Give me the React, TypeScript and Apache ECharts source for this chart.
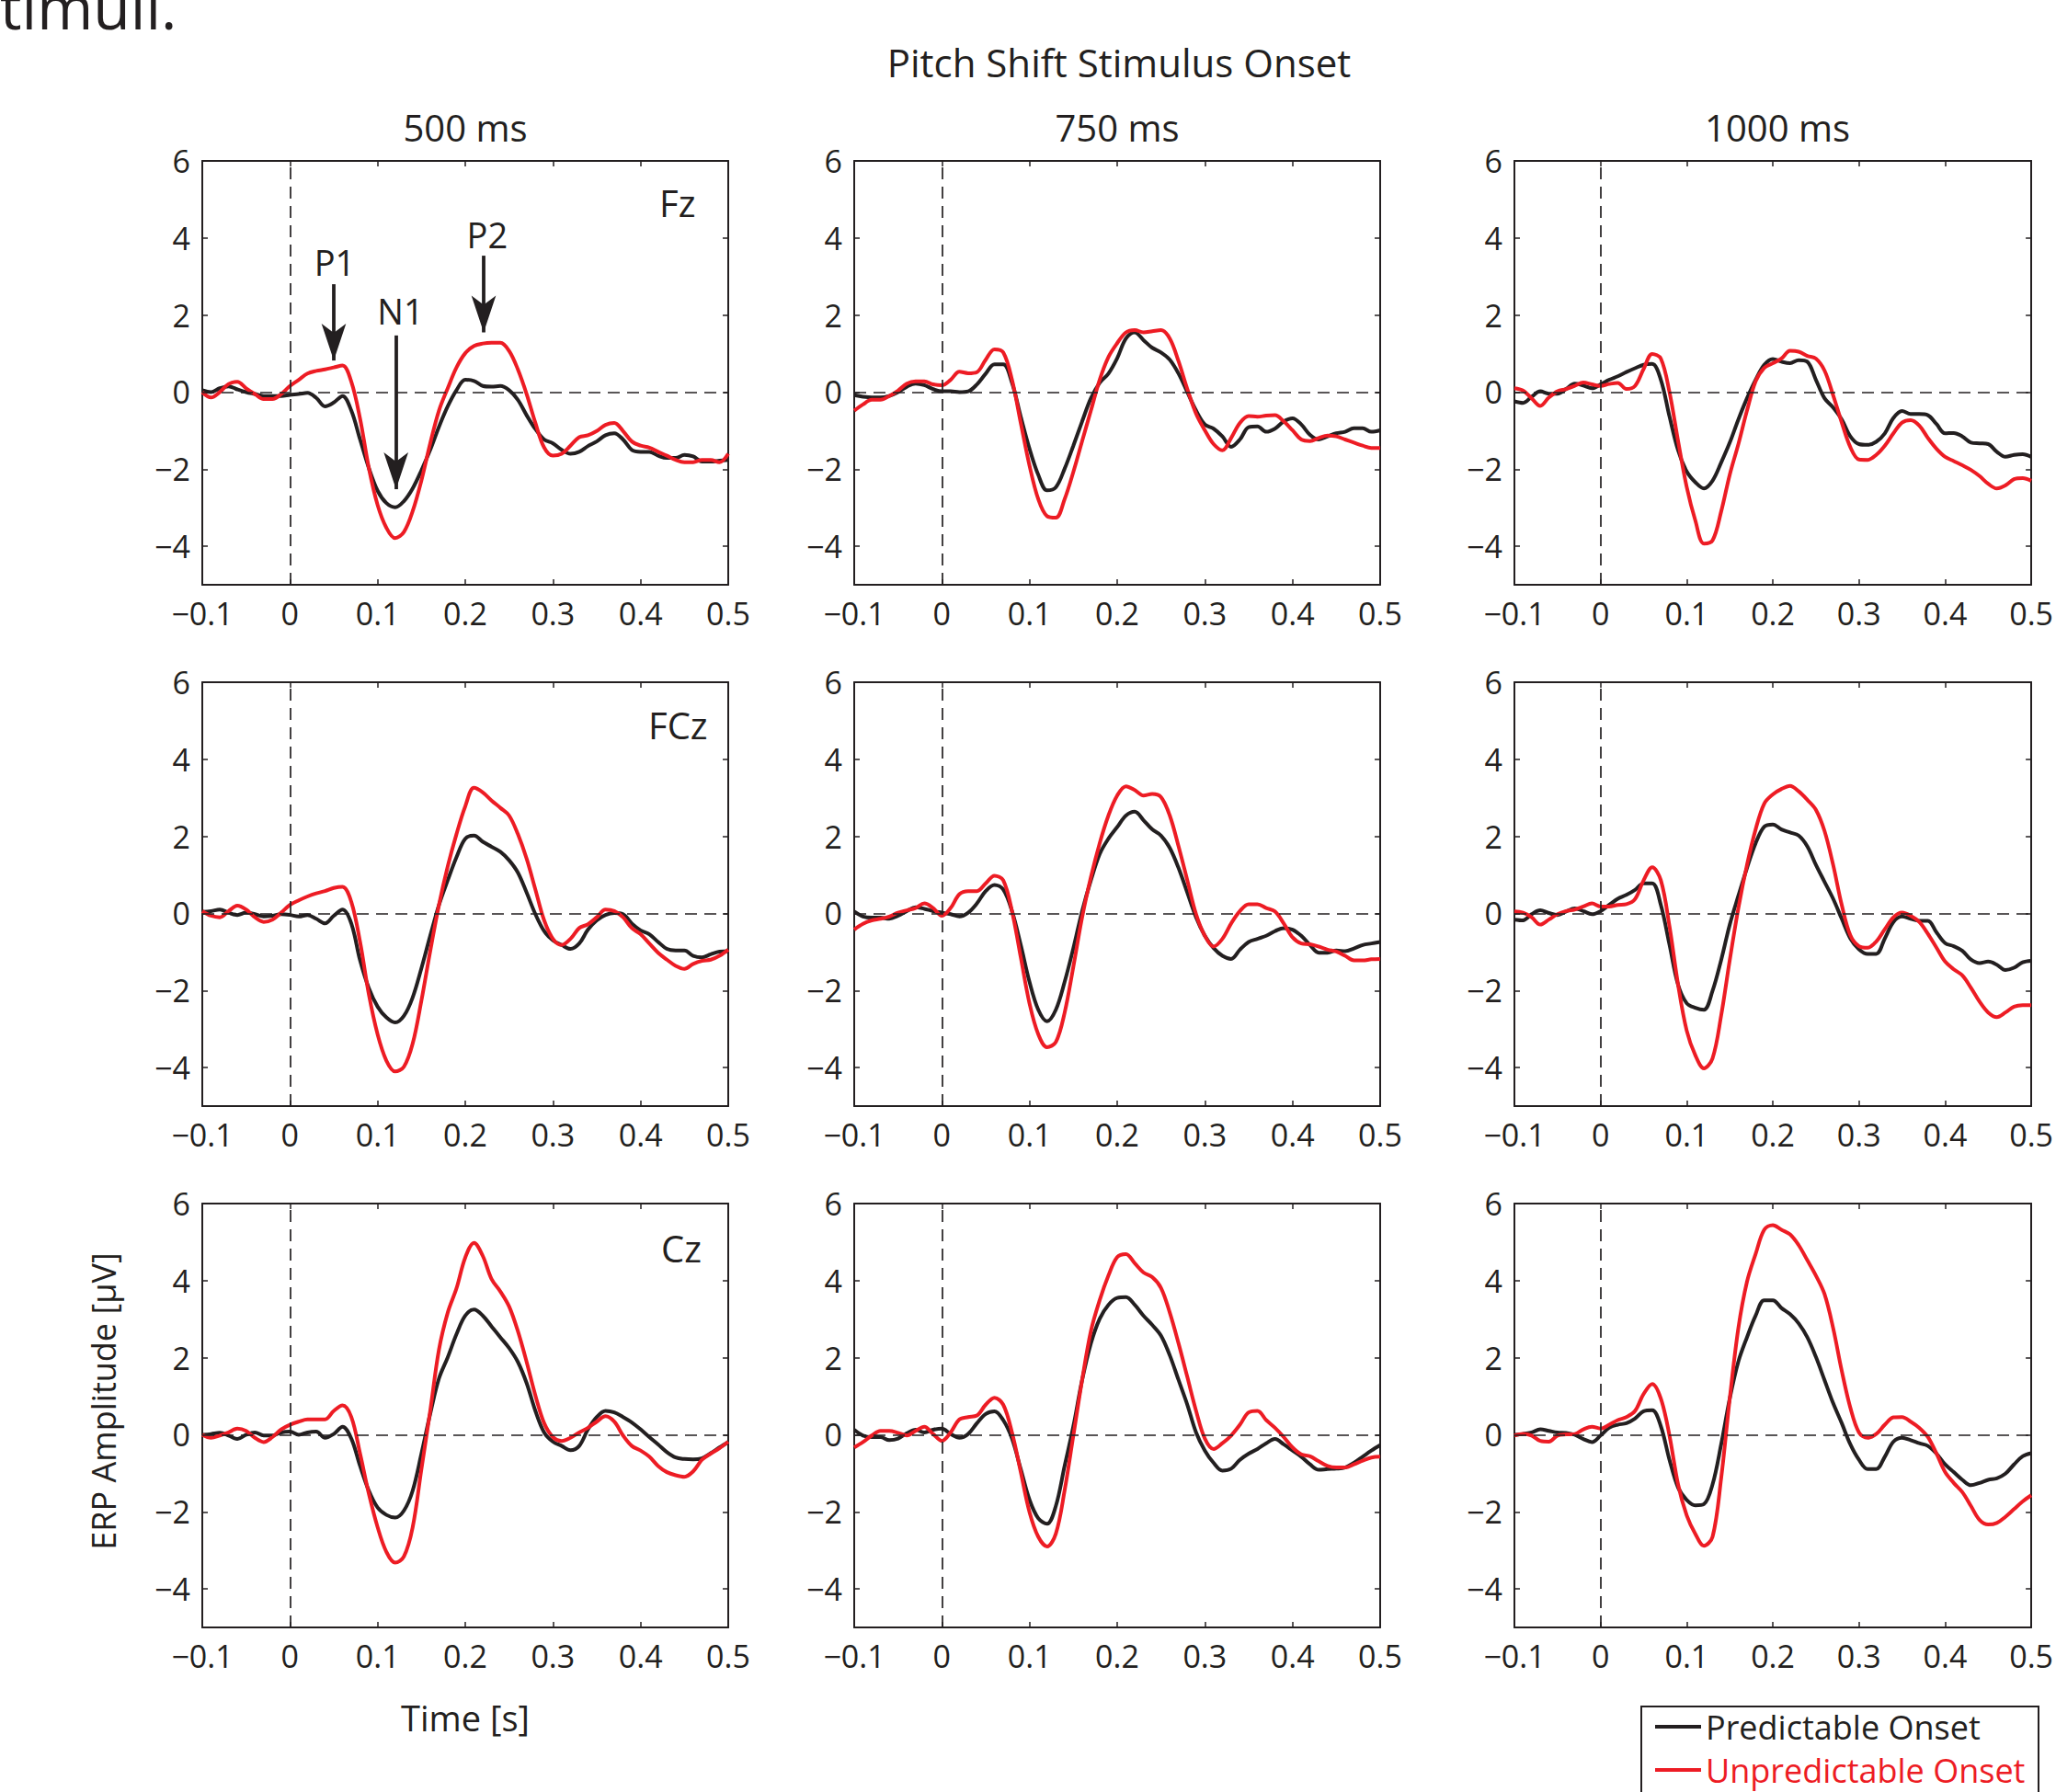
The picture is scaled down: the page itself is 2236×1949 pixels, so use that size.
import React, { useEffect, useRef } from 'react';
import * as echarts from 'echarts';

// ---------- data ----------
const TIMES = [
  -0.1, -0.09, -0.08, -0.07, -0.06, -0.05, -0.04, -0.03, -0.02, -0.01,
  0, 0.01, 0.02, 0.03, 0.04, 0.05, 0.06, 0.07, 0.08, 0.09,
  0.1, 0.11, 0.12, 0.13, 0.14, 0.15, 0.16, 0.17, 0.18, 0.19,
  0.2, 0.21, 0.22, 0.23, 0.24, 0.25, 0.26, 0.27, 0.28, 0.29,
  0.3, 0.31, 0.32, 0.33, 0.34, 0.35, 0.36, 0.37, 0.38, 0.39,
  0.4, 0.41, 0.42, 0.43, 0.44, 0.45, 0.46, 0.47, 0.48, 0.49, 0.5,
];
const X_TICKS = [-0.1, 0, 0.1, 0.2, 0.3, 0.4, 0.5];
const Y_TICKS = [-4, -2, 0, 2, 4, 6];
const COLUMN_TITLES = ['500 ms', '750 ms', '1000 ms'];
const ROW_LABELS = ['Fz', 'FCz', 'Cz'];
const SERIES_NAMES = ['Predictable Onset', 'Unpredictable Onset'];
const MAIN_TITLE = 'Pitch Shift Stimulus Onset';
const X_NAME = 'Time [s]';
const Y_NAME = 'ERP Amplitude [µV]';
const PEAK_LABELS = ['P1', 'N1', 'P2'];
const PEAK_LABEL_POS = [[0.051, 3.38], [0.126, 2.12], [0.225, 4.1]];
const PEAK_ARROWS = [[0.05, 2.8, 0.82], [0.121, 1.47, -2.52], [0.221, 3.54, 1.55]];

const FZ_500_PRED = [
  0.05, 0.0, 0.1, 0.15, 0.07, 0, -0.05, -0.1, -0.1, -0.1,
  -0.07, -0.05, -0.02, -0.15, -0.37, -0.27, -0.1, -0.48, -1.23, -1.97,
  -2.56, -2.88, -2.99, -2.83, -2.5, -2.03, -1.5, -0.9, -0.37, 0.05,
  0.32, 0.29, 0.16, 0.14, 0.16, 0.05, -0.2, -0.6, -0.96, -1.23,
  -1.33, -1.5, -1.6, -1.55, -1.4, -1.28, -1.12, -1.07, -1.23, -1.5,
  -1.55, -1.55, -1.65, -1.71, -1.71, -1.63, -1.67, -1.8, -1.8, -1.78, -1.76,
];
const FZ_500_UNPRED = [
  0, -0.14, 0, 0.21, 0.27, 0.1, -0.05, -0.18, -0.18, -0.05,
  0.16, 0.32, 0.48, 0.55, 0.59, 0.64, 0.69, 0.27, -0.69, -1.97,
  -2.93, -3.52, -3.79, -3.63, -3.09, -2.29, -1.33, -0.48, 0.1, 0.64,
  1.01, 1.2, 1.26, 1.28, 1.28, 1.07, 0.59, -0.05, -0.8, -1.44,
  -1.65, -1.6, -1.39, -1.17, -1.12, -1.01, -0.85, -0.8, -1.01, -1.28,
  -1.39, -1.44, -1.55, -1.65, -1.76, -1.82, -1.82, -1.76, -1.76, -1.82, -1.6,
];
const FZ_750_PRED = [
  -0.08, -0.12, -0.14, -0.14, -0.1, 0, 0.14, 0.22, 0.18, 0.08,
  0.02, 0.02, 0, 0.02, 0.2, 0.48, 0.72, 0.72, 0.24, -0.64,
  -1.47, -2.15, -2.55, -2.47, -1.99, -1.39, -0.76, -0.16, 0.24, 0.48,
  0.88, 1.39, 1.55, 1.35, 1.15, 1.03, 0.84, 0.48, 0, -0.48,
  -0.84, -0.95, -1.15, -1.42, -1.23, -0.91, -0.89, -1.03, -0.95, -0.76,
  -0.68, -0.84, -1.11, -1.23, -1.15, -1.07, -1.03, -0.94, -0.94, -1.03, -0.99,
];
const FZ_750_UNPRED = [
  -0.48, -0.32, -0.2, -0.2, -0.1, 0.04, 0.22, 0.28, 0.28, 0.2,
  0.18, 0.32, 0.53, 0.49, 0.52, 0.84, 1.11, 1.03, 0.32, -0.8,
  -1.91, -2.78, -3.22, -3.26, -2.78, -2.07, -1.27, -0.48, 0.32, 0.91,
  1.27, 1.55, 1.61, 1.55, 1.58, 1.61, 1.39, 0.8, 0.08, -0.56,
  -0.99, -1.35, -1.51, -1.19, -0.8, -0.62, -0.64, -0.61, -0.6, -0.76,
  -0.99, -1.23, -1.27, -1.19, -1.13, -1.15, -1.23, -1.31, -1.39, -1.45, -1.45,
];
const FZ_1000_PRED = [
  -0.24, -0.28, -0.12, 0.02, -0.04, -0.04, 0.08, 0.22, 0.17, 0.1,
  0.2, 0.32, 0.41, 0.52, 0.62, 0.71, 0.73, 0.32, -0.63, -1.51,
  -2.06, -2.34, -2.5, -2.3, -1.83, -1.31, -0.71, -0.16, 0.32, 0.71,
  0.86, 0.79, 0.75, 0.83, 0.79, 0.32, -0.16, -0.4, -0.71, -1.15,
  -1.35, -1.37, -1.29, -1.07, -0.67, -0.49, -0.57, -0.57, -0.6, -0.83,
  -1.07, -1.06, -1.15, -1.31, -1.33, -1.35, -1.55, -1.68, -1.63, -1.61, -1.68,
];
const FZ_1000_UNPRED = [
  0.1, 0.04, -0.16, -0.36, -0.14, 0.02, 0.08, 0.16, 0.25, 0.2,
  0.16, 0.21, 0.24, 0.08, 0.16, 0.6, 0.99, 0.87, 0, -1.27,
  -2.46, -3.33, -3.93, -3.85, -3.1, -2.14, -1.35, -0.48, 0.28, 0.63,
  0.75, 0.87, 1.07, 1.05, 0.94, 0.87, 0.56, -0.08, -0.79, -1.43,
  -1.75, -1.76, -1.63, -1.39, -1.07, -0.79, -0.73, -0.87, -1.19, -1.47,
  -1.68, -1.79, -1.9, -2.02, -2.18, -2.38, -2.5, -2.42, -2.26, -2.23, -2.3,
];
const FCZ_500_PRED = [
  0.04, 0.06, 0.1, 0.02, -0.04, 0.02, -0.02, -0.08, -0.06, -0.02,
  -0.04, -0.08, -0.04, -0.14, -0.26, -0.06, 0.1, -0.26, -1.22, -1.94,
  -2.42, -2.7, -2.83, -2.66, -2.18, -1.42, -0.58, 0.22, 0.86, 1.46,
  1.94, 2.02, 1.86, 1.73, 1.6, 1.38, 1.06, 0.54, -0.02, -0.46,
  -0.7, -0.82, -0.92, -0.78, -0.42, -0.18, -0.04, 0.01, -0.02, -0.26,
  -0.44, -0.54, -0.74, -0.92, -0.96, -0.96, -1.1, -1.14, -1.06, -0.99, -0.98,
];
const FCZ_500_UNPRED = [
  0.06, -0.06, -0.1, 0.06, 0.2, 0.1, -0.1, -0.22, -0.16, 0.02,
  0.22, 0.34, 0.44, 0.52, 0.58, 0.66, 0.69, 0.3, -0.74, -2.1,
  -3.14, -3.82, -4.1, -3.98, -3.38, -2.26, -0.98, 0.22, 1.22, 2.06,
  2.78, 3.26, 3.14, 2.93, 2.74, 2.54, 2.06, 1.42, 0.62, -0.18,
  -0.66, -0.82, -0.66, -0.38, -0.28, -0.1, 0.1, 0.06, -0.1, -0.38,
  -0.54, -0.78, -1.02, -1.2, -1.36, -1.44, -1.31, -1.23, -1.2, -1.1, -0.94,
];
const FCZ_750_PRED = [
  0.05, -0.08, -0.11, -0.11, -0.14, -0.06, 0.06, 0.16, 0.12, 0.06,
  0.02, -0.02, -0.08, 0.02, 0.26, 0.58, 0.74, 0.62, 0.06, -0.82,
  -1.78, -2.5, -2.8, -2.5, -1.78, -0.9, 0.06, 0.86, 1.54, 1.94,
  2.24, 2.54, 2.64, 2.42, 2.18, 2.02, 1.7, 1.18, 0.54, -0.1,
  -0.58, -0.9, -1.1, -1.18, -0.94, -0.74, -0.66, -0.58, -0.46, -0.38,
  -0.42, -0.58, -0.82, -1.02, -1.02, -0.96, -0.98, -0.91, -0.82, -0.78, -0.74,
];
const FCZ_750_UNPRED = [
  -0.42, -0.27, -0.18, -0.14, -0.08, 0.02, 0.08, 0.14, 0.26, 0.14,
  -0.06, 0.14, 0.5, 0.58, 0.58, 0.78, 0.98, 0.86, 0.06, -1.14,
  -2.34, -3.14, -3.47, -3.34, -2.58, -1.38, -0.1, 0.94, 1.82, 2.54,
  3.06, 3.3, 3.2, 3.06, 3.1, 3.02, 2.54, 1.74, 0.86, -0.02,
  -0.58, -0.86, -0.66, -0.26, 0.06, 0.24, 0.24, 0.14, 0.05, -0.26,
  -0.62, -0.78, -0.8, -0.86, -0.94, -0.99, -1.1, -1.22, -1.22, -1.19, -1.18,
];
const FCZ_1000_PRED = [
  -0.16, -0.18, -0.02, 0.08, 0.01, -0.04, 0.05, 0.13, 0.06, -0.02,
  0.06, 0.22, 0.38, 0.48, 0.61, 0.78, 0.78, 0.22, -0.81, -1.85,
  -2.33, -2.45, -2.5, -2.01, -1.21, -0.29, 0.46, 1.18, 1.82, 2.25,
  2.31, 2.18, 2.1, 2.02, 1.74, 1.26, 0.82, 0.38, -0.14, -0.65,
  -0.93, -1.05, -1.05, -0.65, -0.22, -0.08, -0.14, -0.19, -0.19, -0.49,
  -0.77, -0.85, -0.97, -1.2, -1.29, -1.25, -1.33, -1.47, -1.41, -1.27, -1.23,
];
const FCZ_1000_UNPRED = [
  0.05, 0.02, -0.1, -0.29, -0.16, -0.02, 0.06, 0.1, 0.18, 0.26,
  0.18, 0.18, 0.22, 0.24, 0.37, 0.86, 1.2, 0.86, -0.33, -1.85,
  -3.04, -3.68, -4.02, -3.76, -2.65, -1.21, 0.14, 1.26, 2.18, 2.85,
  3.09, 3.23, 3.31, 3.17, 2.95, 2.69, 2.14, 1.26, 0.22, -0.57,
  -0.85, -0.89, -0.73, -0.41, -0.1, 0.02, -0.06, -0.22, -0.53, -0.89,
  -1.25, -1.45, -1.61, -1.93, -2.29, -2.57, -2.69, -2.57, -2.42, -2.38, -2.38,
];
const CZ_500_PRED = [
  0, 0.02, 0.05, -0.02, -0.11, 0, 0.06, -0.02, -0.02, 0.06,
  0.08, 0, 0.06, 0.08, -0.08, 0.02, 0.21, -0.1, -0.81, -1.45,
  -1.89, -2.08, -2.15, -1.97, -1.45, -0.49, 0.54, 1.46, 2.01, 2.61,
  3.09, 3.25, 3.09, 2.81, 2.53, 2.25, 1.89, 1.34, 0.62, 0.06,
  -0.18, -0.29, -0.4, -0.29, 0.14, 0.46, 0.62, 0.58, 0.46, 0.32,
  0.14, -0.06, -0.25, -0.45, -0.59, -0.63, -0.64, -0.61, -0.48, -0.33, -0.19,
];
const CZ_500_UNPRED = [
  0, -0.08, -0.02, 0.06, 0.16, 0.1, -0.08, -0.19, -0.06, 0.14,
  0.26, 0.34, 0.4, 0.4, 0.4, 0.62, 0.76, 0.46, -0.49, -1.53,
  -2.4, -3.04, -3.32, -3.16, -2.4, -0.89, 0.62, 2.21, 3.17, 3.8,
  4.6, 4.98, 4.64, 4.04, 3.72, 3.33, 2.69, 1.89, 1.02, 0.3,
  -0.06, -0.16, -0.08, 0.06, 0.18, 0.34, 0.48, 0.34, -0.02, -0.29,
  -0.41, -0.57, -0.81, -0.97, -1.05, -1.09, -0.95, -0.65, -0.49, -0.35, -0.18,
];
const CZ_750_PRED = [
  0.13, -0.02, -0.06, -0.06, -0.14, -0.1, 0.04, 0.13, 0.06, 0.13,
  0.16, 0.02, -0.08, 0.02, 0.3, 0.54, 0.61, 0.38, -0.1, -0.89,
  -1.69, -2.17, -2.31, -1.85, -0.81, 0.22, 1.42, 2.37, 3.01, 3.37,
  3.55, 3.57, 3.37, 3.09, 2.85, 2.57, 2.06, 1.42, 0.78, 0.06,
  -0.41, -0.73, -0.93, -0.88, -0.65, -0.49, -0.37, -0.22, -0.11, -0.25,
  -0.41, -0.57, -0.77, -0.91, -0.89, -0.88, -0.85, -0.73, -0.57, -0.41, -0.27,
];
const CZ_750_UNPRED = [
  -0.33, -0.19, -0.02, 0.1, 0.1, 0.05, -0.02, 0.1, 0.21, 0.02,
  -0.16, 0.06, 0.4, 0.46, 0.5, 0.78, 0.96, 0.78, 0.06, -0.97,
  -2.01, -2.65, -2.9, -2.57, -1.45, -0.02, 1.42, 2.69, 3.49, 4.13,
  4.61, 4.69, 4.45, 4.21, 4.09, 3.81, 3.17, 2.37, 1.5, 0.62,
  -0.1, -0.37, -0.22, -0.02, 0.26, 0.58, 0.62, 0.38, 0.18, -0.06,
  -0.33, -0.51, -0.56, -0.69, -0.81, -0.85, -0.85, -0.77, -0.67, -0.59, -0.57,
];
const CZ_1000_PRED = [
  0, 0.02, 0.06, 0.14, 0.1, 0.06, 0.05, 0, -0.11, -0.19,
  -0.02, 0.18, 0.26, 0.3, 0.42, 0.61, 0.64, 0.22, -0.65, -1.37,
  -1.69, -1.83, -1.8, -1.29, -0.25, 0.94, 1.9, 2.53, 3.09, 3.49,
  3.49, 3.29, 3.13, 2.89, 2.53, 2.02, 1.42, 0.82, 0.3, -0.25,
  -0.65, -0.89, -0.89, -0.57, -0.18, -0.08, -0.14, -0.22, -0.29, -0.49,
  -0.77, -0.97, -1.17, -1.31, -1.25, -1.17, -1.13, -1.01, -0.77, -0.56, -0.48,
];
const CZ_1000_UNPRED = [
  -0.02, 0.02, -0.02, -0.16, -0.18, -0.02, 0.01, 0.02, 0.14, 0.21,
  0.16, 0.26, 0.38, 0.46, 0.62, 1.06, 1.32, 0.94, -0.02, -1.29,
  -2.09, -2.57, -2.88, -2.65, -1.13, 0.94, 2.77, 3.97, 4.69, 5.32,
  5.44, 5.32, 5.2, 4.92, 4.53, 4.13, 3.65, 2.77, 1.66, 0.7,
  0.06, -0.08, 0.02, 0.26, 0.45, 0.46, 0.34, 0.18, -0.06, -0.49,
  -0.97, -1.25, -1.49, -1.85, -2.21, -2.33, -2.29, -2.13, -1.93, -1.73, -1.57,
];

const PANELS = [
  [FZ_500_PRED, FZ_500_UNPRED], [FZ_750_PRED, FZ_750_UNPRED], [FZ_1000_PRED, FZ_1000_UNPRED],
  [FCZ_500_PRED, FCZ_500_UNPRED], [FCZ_750_PRED, FCZ_750_UNPRED], [FCZ_1000_PRED, FCZ_1000_UNPRED],
  [CZ_500_PRED, CZ_500_UNPRED], [CZ_750_PRED, CZ_750_UNPRED], [CZ_1000_PRED, CZ_1000_UNPRED],
];

// ---------- layout / style ----------
const FONT = "'Open Sans', 'Noto Sans', sans-serif";
const INK = '#231f20';
const RED = '#ed1c24';
const COL_LEFT = [220, 929, 1647];
const ROW_TOP = [175, 742, 1309];
const PW = 572;
const PH = 461;
const ROW_LABEL_POS = [[717, 220.5], [705, 788], [719, 1357.5]];

const minusify = (s: string) => s.replace('-', '\u2212');

function text(x: number, y: number, str: string, size: number, align = 'center', extra: any = {}) {
  return {
    type: 'text',
    x,
    y,
    silent: true,
    ...extra,
    style: {
      text: str,
      fontSize: size,
      fontFamily: FONT,
      fill: INK,
      align,
      verticalAlign: 'middle',
      textAlign: align,
      textVerticalAlign: 'middle',
    },
  };
}

function buildOption() {
  const grid: any[] = [];
  const xAxis: any[] = [];
  const yAxis: any[] = [];
  const series: any[] = [];
  const axisLine = { show: true, onZero: false, lineStyle: { color: INK, width: 2 } };
  const tick = (vals: number[]) => ({
    show: true, inside: true, length: 6, customValues: vals, lineStyle: { color: INK, width: 1.5 },
  });
  const labelBase = { color: INK, fontSize: 34, fontFamily: FONT };

  PANELS.forEach((pair, i) => {
    const r = Math.floor(i / 3);
    const c = i % 3;
    grid.push({ left: COL_LEFT[c], top: ROW_TOP[r], width: PW, height: PH, containLabel: false });
    const xb = { type: 'value', gridIndex: i, min: -0.1, max: 0.5, axisLine, splitLine: { show: false }, axisTick: tick(X_TICKS) };
    xAxis.push({
      ...xb, position: 'bottom',
      axisLabel: { ...labelBase, margin: 14, customValues: X_TICKS, formatter: (v: number) => (v === 0 ? '0' : minusify(String(v))) },
    });
    xAxis.push({ ...xb, position: 'top', axisLabel: { show: false } });
    const yb = { type: 'value', gridIndex: i, min: -5, max: 6, axisLine, splitLine: { show: false }, axisTick: tick(Y_TICKS) };
    yAxis.push({
      ...yb, position: 'left',
      axisLabel: { ...labelBase, margin: 13, customValues: Y_TICKS, formatter: (v: number) => minusify(String(v)) },
    });
    yAxis.push({ ...yb, position: 'right', axisLabel: { show: false } });

    const colors = [INK, RED];
    pair.forEach((vals, k) => {
      const s: any = {
        type: 'line',
        name: SERIES_NAMES[k],
        xAxisIndex: 2 * i,
        yAxisIndex: 2 * i,
        data: TIMES.map((t, j) => [t, vals[j]]),
        symbol: 'none',
        showSymbol: false,
        smooth: 0.35,
        silent: true,
        z: 3 + k,
        lineStyle: { color: colors[k], width: 4 },
        itemStyle: { color: colors[k] },
        emphasis: { disabled: true },
      };
      if (k === 0) {
        s.markLine = {
          silent: true,
          symbol: 'none',
          label: { show: false },
          emphasis: { disabled: true },
          lineStyle: { color: INK, width: 1.7, type: [13, 8] },
          data: [{ xAxis: 0 }, { yAxis: 0 }],
        };
      }
      series.push(s);
    });
  });

  // peak annotations in the first panel
  series.push({
    type: 'line',
    name: 'peaks',
    xAxisIndex: 0,
    yAxisIndex: 0,
    data: [],
    silent: true,
    markLine: {
      silent: true,
      symbol: ['none', 'arrow'],
      symbolSize: [0, 38],
      label: { show: false },
      emphasis: { disabled: true },
      lineStyle: { color: INK, width: 3.8, type: 'solid' },
      data: PEAK_ARROWS.map(([x, y0, y1]) => [
        { coord: [x, y0], symbol: 'none' },
        { coord: [x, y1], symbol: 'arrow', symbolSize: [20, 40] },
      ]),
    },
    markPoint: {
      silent: true,
      symbol: 'circle',
      symbolSize: 1,
      itemStyle: { color: 'transparent' },
      label: { show: true, position: 'inside', color: INK, fontSize: 38, fontFamily: FONT, formatter: '{b}' },
      data: PEAK_LABELS.map((name, k) => ({ name, coord: PEAK_LABEL_POS[k] })),
    },
  });

  const graphic: any[] = [
    text(0, 6, 'timuli.', 66, 'left'),
    text(1217, 67, MAIN_TITLE, 42),
    ...COLUMN_TITLES.map((t, c) => text(COL_LEFT[c] + PW / 2, 138, t, 40)),
    ...ROW_LABELS.map((t, r) => text(ROW_LABEL_POS[r][0], ROW_LABEL_POS[r][1], t, 40, 'left')),
    text(506, 1868, X_NAME, 38),
    text(112, 1524, Y_NAME, 36, 'center', { rotation: Math.PI / 2 }),
    {
      type: 'rect',
      silent: true,
      z: 0,
      shape: { x: 1785, y: 1856, width: 432, height: 200 },
      style: { fill: 'none', stroke: INK, lineWidth: 2 },
    },
  ];

  return {
    animation: false,
    backgroundColor: '#ffffff',
    grid,
    xAxis,
    yAxis,
    series,
    graphic,
    legend: {
      show: true,
      orient: 'vertical',
      left: 1785,
      top: 1856,
      z: 10,
      padding: [4, 10, 4, 15],
      itemWidth: 50,
      itemHeight: 4,
      itemGap: 11,
      itemTextGap: 2,
      icon: 'rect',
      selectedMode: false,
      textStyle: { fontSize: 36, fontFamily: FONT },
      data: [
        { name: SERIES_NAMES[0], textStyle: { color: INK } },
        { name: SERIES_NAMES[1], textStyle: { color: RED } },
      ],
    },
  };
}

export default function App() {
  const ref = useRef<HTMLDivElement>(null);
  useEffect(() => {
    document.body.style.margin = '0';
    if (!ref.current) return;
    const chart = echarts.init(ref.current, null, { renderer: 'svg' });
    chart.setOption(buildOption() as any);
    return () => chart.dispose();
  }, []);
  return <div ref={ref} style={{ width: 2236, height: 1949 }} />;
}
